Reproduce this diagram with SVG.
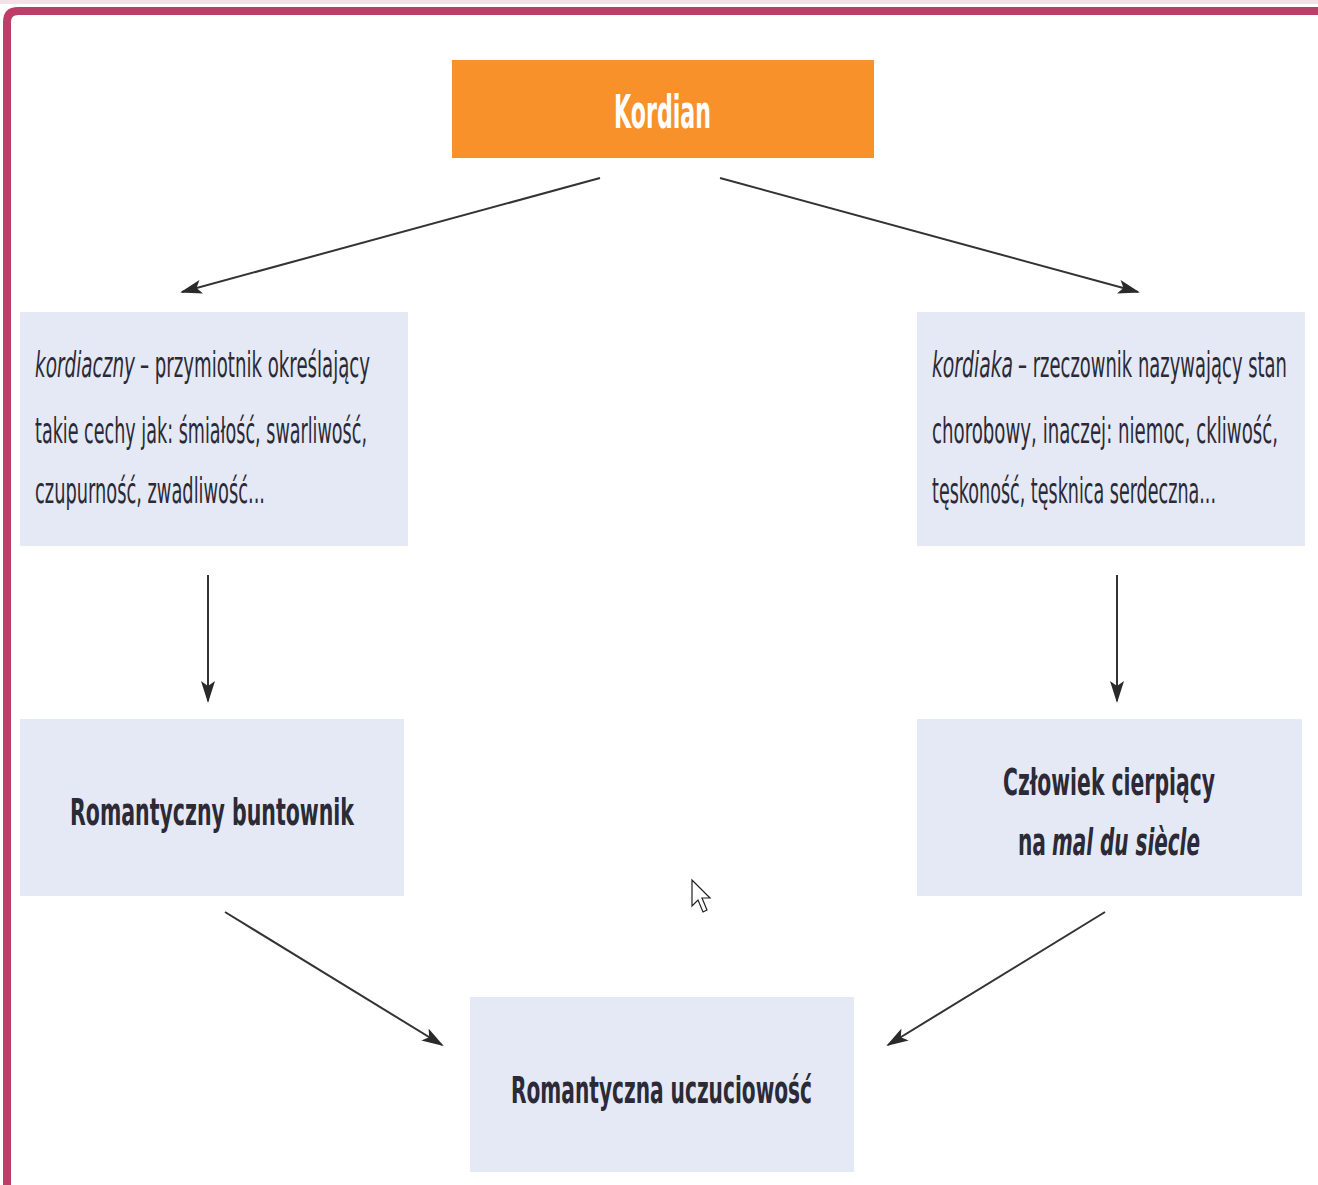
<svg xmlns="http://www.w3.org/2000/svg" width="1318" height="1185" viewBox="0 0 1318 1185">
<style>
.box{fill:#E4E9F5}
.t{font-family:"DejaVu Sans","Liberation Sans",sans-serif;fill:#2B2A36}
.r{font-size:35px}
.b{font-size:38px;font-weight:bold}
.i{font-style:italic}
.con line{stroke:#333;stroke-width:2}
</style>
<defs>
<marker id="ah" markerWidth="22" markerHeight="14" refX="20" refY="7" orient="auto" markerUnits="userSpaceOnUse">
<path d="M0,0 L22,7 L0,14 L5,7 Z" fill="#2a2a2a"/>
</marker>
</defs>
<rect x="0" y="0" width="1318" height="1185" fill="#fff"/>
<rect x="0" y="0" width="1318" height="4" fill="#F4E1E7"/>
<path d="M7,1185 L7,22 Q7,11 18,11 L1318,11" fill="none" stroke="#BE3D69" stroke-width="8"/>

<g id="kordian">
<rect x="452" y="60" width="422" height="98" fill="#F8912A"/>
<text x="614" y="128" class="t" style="fill:#fff;font-size:46px;font-weight:bold" textLength="97" lengthAdjust="spacingAndGlyphs">Kordian</text>
</g>

<g id="kordiaczny">
<rect class="box" x="20" y="312" width="388" height="234"/>
<text class="t r i" x="35" y="377" textLength="100" lengthAdjust="spacingAndGlyphs">kordiaczny</text>
<text class="t r" x="140" y="377" textLength="230" lengthAdjust="spacingAndGlyphs">– przymiotnik określający</text>
<text class="t r" x="35" y="443" textLength="332" lengthAdjust="spacingAndGlyphs">takie cechy jak: śmiałość, swarliwość,</text>
<text class="t r" x="35" y="503" textLength="230" lengthAdjust="spacingAndGlyphs">czupurność, zwadliwość...</text>
</g>

<g id="kordiaka">
<rect class="box" x="917" y="312" width="388" height="234"/>
<text class="t r i" x="932" y="377" textLength="81" lengthAdjust="spacingAndGlyphs">kordiaka</text>
<text class="t r" x="1018" y="377" textLength="269" lengthAdjust="spacingAndGlyphs">– rzeczownik nazywający stan</text>
<text class="t r" x="932" y="443" textLength="346" lengthAdjust="spacingAndGlyphs">chorobowy, inaczej:  niemoc, ckliwość,</text>
<text class="t r" x="932" y="503" textLength="284" lengthAdjust="spacingAndGlyphs">tęskoność, tęsknica serdeczna...</text>
</g>

<g id="buntownik">
<rect class="box" x="20" y="719" width="384" height="177"/>
<text class="t b" x="70" y="825" textLength="284" lengthAdjust="spacingAndGlyphs">Romantyczny buntownik</text>
</g>

<g id="cierpiacy">
<rect class="box" x="917" y="719" width="385" height="177"/>
<text class="t b" x="1003" y="795" textLength="212" lengthAdjust="spacingAndGlyphs">Człowiek cierpiący</text>
<text class="t b" x="1018" y="855" textLength="28" lengthAdjust="spacingAndGlyphs">na</text>
<text class="t b i" x="1052" y="855" textLength="148" lengthAdjust="spacingAndGlyphs">mal du siècle</text>
</g>

<g id="uczuciowosc">
<rect class="box" x="470" y="997" width="384" height="175"/>
<text class="t b" x="511" y="1103" textLength="301" lengthAdjust="spacingAndGlyphs">Romantyczna uczuciowość</text>
</g>

<g id="connectors" class="con">
<line x1="600" y1="178" x2="182" y2="292" marker-end="url(#ah)"/>
<line x1="720" y1="178" x2="1138" y2="292" marker-end="url(#ah)"/>
<line x1="208" y1="575" x2="208" y2="701" marker-end="url(#ah)"/>
<line x1="1117" y1="575" x2="1117" y2="701" marker-end="url(#ah)"/>
<line x1="225" y1="912" x2="442" y2="1045" marker-end="url(#ah)"/>
<line x1="1105" y1="912" x2="888" y2="1045" marker-end="url(#ah)"/>
</g>

<path d="M692,880 L692,906 L698,900 L703,912 L707,910 L702,898 L710,898 Z" fill="#fff" stroke="#222" stroke-width="1.2"/>
</svg>
